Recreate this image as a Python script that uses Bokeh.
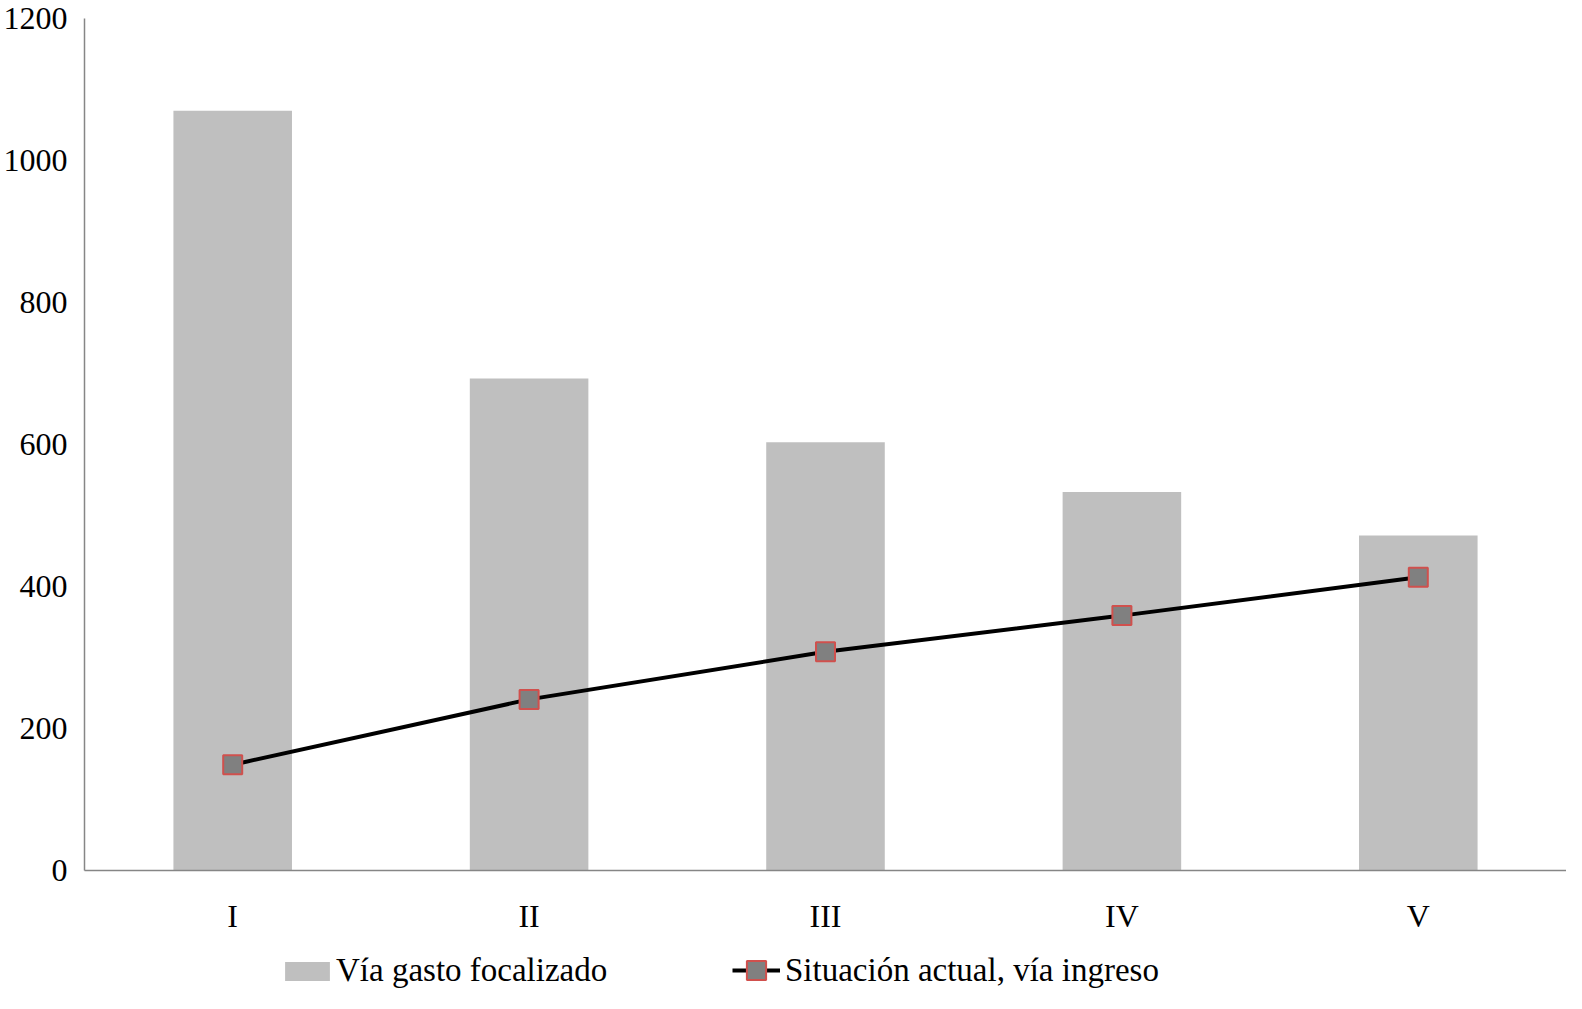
from bokeh.plotting import figure
from bokeh.models import ColumnDataSource, Legend, LegendItem, FactorRange, Range1d
from bokeh.layouts import column
from bokeh.embed import file_html
from bokeh.resources import INLINE

categories = ["I", "II", "III", "IV", "V"]
gasto_focalizado = [1070, 693, 603, 533, 472]
situacion_actual = [149, 241, 308, 359, 413]
y_ticks = [0, 200, 400, 600, 800, 1000, 1200]
legend_labels = ["Vía gasto focalizado", "Situación actual, vía ingreso"]

FONT = "Liberation Serif"
BAR_COLOR = "#bfbfbf"
MK_FILL = "#808080"
MK_LINE = "#d0504d"

src = ColumnDataSource(dict(cat=categories, bar=gasto_focalizado, line=situacion_actual))

p = figure(x_range=FactorRange(*categories, range_padding=0), y_range=(0, 1200),
           width=1566, height=936, output_backend="svg", toolbar_location=None,
           min_border_left=81, min_border_right=0, min_border_top=18, min_border_bottom=66)
p.outline_line_color = None
p.xgrid.visible = False
p.ygrid.visible = False

p.vbar(x="cat", top="bar", width=0.4, source=src, fill_color=BAR_COLOR, line_color=None)
p.line(x="cat", y="line", source=src, line_color="black", line_width=4)
p.scatter(x="cat", y="line", source=src, marker="square", size=19,
          fill_color=MK_FILL, line_color=MK_LINE, line_width=2)

for ax in (p.xaxis[0], p.yaxis[0]):
    ax.axis_line_color = "#868686"
    ax.axis_line_width = 1.5
    ax.major_tick_out = 0
    ax.major_tick_in = 0
    ax.minor_tick_out = 0
    ax.minor_tick_in = 0
    ax.major_label_text_font = FONT
    ax.major_label_text_font_size = "32px"
    ax.major_label_text_color = "black"

p.yaxis[0].ticker = y_ticks
p.yaxis[0].major_label_standoff = 17
p.xaxis[0].major_label_standoff = 27

# legend strip below the chart (same series, drawn outside its visible y window)
lf = figure(width=1566, height=57, output_backend="svg", toolbar_location=None,
            x_range=FactorRange(*categories, range_padding=0), y_range=Range1d(5000, 5001),
            x_axis_location=None, y_axis_location=None,
            min_border_left=0, min_border_right=0, min_border_top=0, min_border_bottom=0)
lf.grid.visible = False
lf.outline_line_color = None
lb = lf.vbar(x="cat", top="bar", width=0.4, source=src, fill_color=BAR_COLOR, line_color=None)
ll = lf.line(x="cat", y="line", source=src, line_color="black", line_width=4)
lm = lf.scatter(x="cat", y="line", source=src, marker="square", size=19,
                fill_color=MK_FILL, line_color=MK_LINE, line_width=2)

common = dict(orientation="horizontal", padding=0, margin=0, border_line_color=None,
              background_fill_alpha=0, label_text_font=FONT, label_text_font_size="33px",
              label_text_color="black")
legend1 = Legend(items=[LegendItem(label=legend_labels[0], renderers=[lb])],
                 location=(195, 4), glyph_width=56, glyph_height=24, label_standoff=1, **common)
legend2 = Legend(items=[LegendItem(label=legend_labels[1], renderers=[ll, lm])],
                 location=(648, -1), glyph_width=48, glyph_height=48, label_standoff=5, **common)
lf.add_layout(legend1, "center")
lf.add_layout(legend2, "center")

layout = column(p, lf, spacing=0)
open("out.html", "w").write(file_html(layout, INLINE))
